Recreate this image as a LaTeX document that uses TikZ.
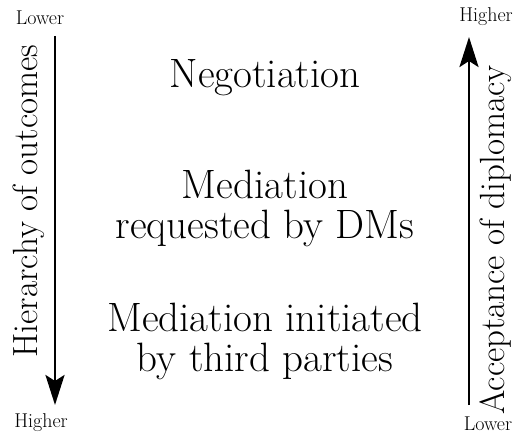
\documentclass[tikz,border=0pt]{standalone}
\usetikzlibrary{arrows.meta}
\begin{document}
\begin{tikzpicture}[x=1pt,y=-1pt,
  big/.style={font=\fontsize{41}{40}\selectfont, align=center, inner sep=0pt},
  side/.style={font=\fontsize{35}{40}\selectfont, inner sep=0pt, rotate=90, anchor=base},
  small/.style={font=\fontsize{20}{22}\selectfont, inner sep=0pt},
  axis/.style={line width=2.8pt, -{Stealth[length=30pt,width=19pt,inset=6pt]}}]
\useasboundingbox (0,0) rectangle (520,436);
% levels of third-party involvement
\node[big] (neg) at (265,78) {Negotiation};
\node[big] (req) at (265,208) {Mediation\\requested by DMs};
\node[big] (ini) at (265,341) {Mediation initiated\\by third parties};
% left scale
\node[small] (ltop) at (40,18) {Lower};
\node[small] (lbot) at (41,423) {Higher};
\coordinate (ls) at (55,36);
\coordinate (le) at (55,405);
\draw[axis] (ls) -- (le);
\node[side] (lax) at (37,201) {Hierarchy of outcomes};
% right scale
\node[small] (rtop) at (486,17) {Higher};
\node[small] (rbot) at (488,424) {Lower};
\coordinate (rs) at (469,405);
\coordinate (re) at (469,37);
\draw[axis] (rs) -- (re);
\node[side] (rax) at (504,240) {Acceptance of diplomacy};
\end{tikzpicture}
\end{document}
